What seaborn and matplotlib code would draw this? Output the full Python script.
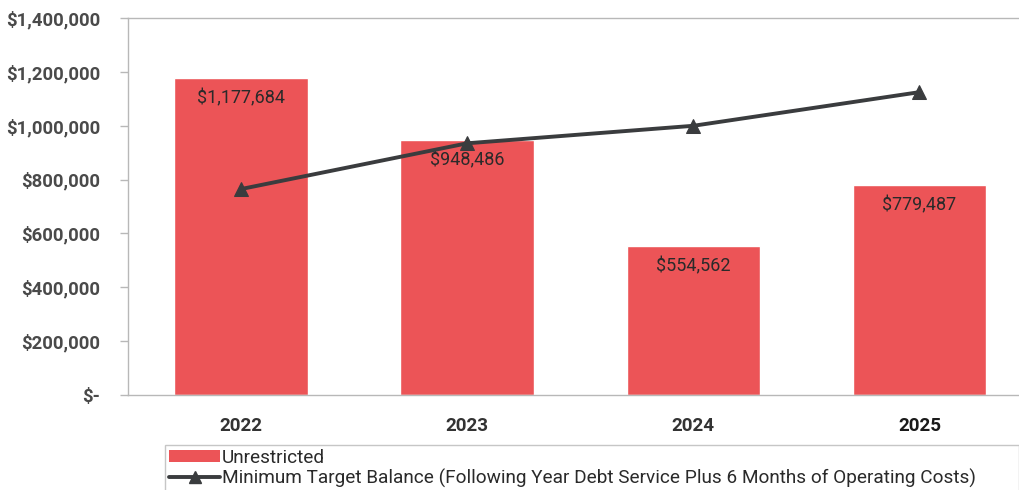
import matplotlib
matplotlib.use("Agg")
import matplotlib.pyplot as plt
from matplotlib.lines import Line2D
from matplotlib.patches import Patch
from matplotlib.ticker import FuncFormatter
import seaborn as sns
import pandas as pd

years = ["2022", "2023", "2024", "2025"]
unrestricted = [1177684, 948486, 554562, 779487]
min_target = [765000, 935000, 1000000, 1125000]

bar_color = "#EC5457"
line_color = "#3A3C3E"
axis_gray = "#B8B8B8"
text_gray = "#4A4A4A"

sns.set_theme(style="white")
plt.rcParams["font.family"] = ["Roboto", "DejaVu Sans"]

df = pd.DataFrame({"year": years, "unrestricted": unrestricted, "target": min_target})

fig = plt.figure(figsize=(10.19, 4.90), dpi=100)
ax = fig.add_axes([0.1256, 0.194, 0.8744, 0.769])

sns.barplot(data=df, x="year", y="unrestricted", color=bar_color, saturation=1,
            width=0.59, ax=ax, zorder=2)
sns.lineplot(data=df, x="year", y="target", color=line_color, linewidth=2.8,
             marker="^", markersize=10, markeredgecolor=line_color, ax=ax,
             zorder=4, sort=False)

for i, v in enumerate(unrestricted):
    ax.annotate(f"${v:,.0f}", xy=(i, v), xytext=(0, -8), textcoords="offset points",
                ha="center", va="top", fontsize=13, color="#2A2A2A", zorder=3)

ax.set_xlim(-0.5, 3.44)
ax.set_ylim(0, 1400000)
ax.set_yticks(range(0, 1400001, 200000))
ax.yaxis.set_major_formatter(FuncFormatter(lambda v, p: "$-" if v == 0 else f"${v:,.0f}"))
ax.set_xlabel("")
ax.set_ylabel("")

for name in ["left", "bottom", "top"]:
    ax.spines[name].set_visible(True)
    ax.spines[name].set_color(axis_gray)
    ax.spines[name].set_linewidth(1.0)
ax.spines["right"].set_visible(False)

ax.tick_params(axis="y", which="major", left=True, length=6, width=1, color=axis_gray,
               labelsize=13.3, labelcolor=text_gray, pad=14)
ax.tick_params(axis="x", which="major", bottom=False, labelsize=13.5, labelcolor="#333333", pad=10)
for lbl in ax.get_yticklabels():
    lbl.set_fontweight("bold")
for lbl in ax.get_xticklabels():
    lbl.set_fontweight("bold")
    if lbl.get_text() == "2025":
        lbl.set_color("#1A1A1A")

handles = [
    Patch(facecolor=bar_color, edgecolor="none", label="Unrestricted"),
    Line2D([0], [0], color=line_color, linewidth=2.8, marker="^", markersize=8,
           label="Minimum Target Balance (Following Year Debt Service Plus 6 Months of Operating Costs)"),
]
leg = fig.legend(handles=handles, loc="upper left", bbox_to_anchor=(0.162, 0.006, 0.838, 0.086),
                 mode="expand", ncol=1, frameon=True, fontsize=13.7, handlelength=2.7,
                 handleheight=0.6, handletextpad=0.1, labelspacing=0.1, borderpad=0.2,
                 fancybox=False, borderaxespad=0)
leg.get_frame().set_edgecolor(axis_gray)
leg.get_frame().set_linewidth(1.0)
for t in leg.get_texts():
    t.set_color("#2A2A2A")

fig.savefig("out.png", dpi=100, facecolor="white")
